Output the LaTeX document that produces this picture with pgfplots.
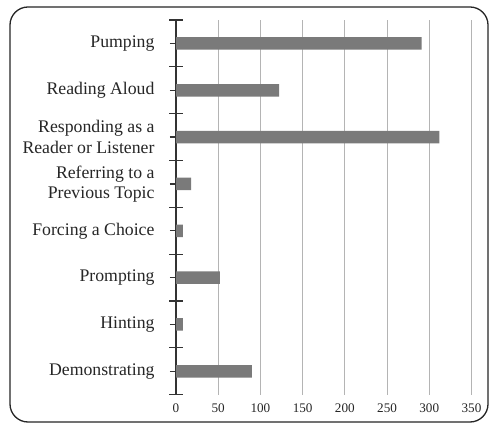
\documentclass[border=0pt]{standalone}
\usepackage{pgfplots}
\pgfplotsset{compat=1.18}
\usepackage{fontspec}
\setmainfont{Liberation Serif}
\definecolor{barc}{RGB}{122,122,122}
\definecolor{gridc}{RGB}{180,180,180}
\begin{document}
\begin{tikzpicture}
\useasboundingbox (0,0) rectangle (489bp,423bp);
\fill[white] (0,0) rectangle (489bp,423bp);
\draw[line width=1.3bp, rounded corners=18bp, color=black!85] (10bp,1bp) rectangle (488bp,416bp);
\begin{axis}[
  at={(176bp,28.3bp)}, anchor=south west,
  scale only axis, width=295.5bp, height=374.7bp,
  xmin=0, xmax=350, ymin=-0.5, ymax=7.5,
  xbar, bar width=12.5bp,
  axis y line=left, axis x line=bottom,
  axis line style={-},
  x axis line style={draw=none},
  y axis line style={line width=1.2bp, color=black!80},
  xtick={0,50,...,350},
  xmajorgrids, grid style={gridc, line width=0.8bp},
  major x tick style={draw=none},
  ytick={0,...,7},
  yticklabels={Demonstrating,Hinting,Prompting,Forcing a Choice,{Referring to a\\Previous Topic},{Responding as a\\Reader or Listener},Reading Aloud,Pumping},
  y tick style={line width=1.2bp, color=black!80},
  tick align=outside,
  major tick length=6bp,
  extra y ticks={-0.5,0.5,...,7.5},
  extra y tick labels={},
  extra y tick style={tick align=center, major tick length=13bp, grid=none},
  yticklabel style={align=right, font=\fontsize{17.8}{20.5}\selectfont, xshift=-12bp, text=black!85},
  xticklabel style={font=\fontsize{13.2}{15}\selectfont, text=black!85},
  /pgf/number format/assume math mode=true,
]
\addplot[fill=barc, draw=none] coordinates {
(90,0) (8,1) (52,2) (8,3) (18,4) (312,5) (122,6) (291,7)};
\end{axis}
\end{tikzpicture}
\end{document}
